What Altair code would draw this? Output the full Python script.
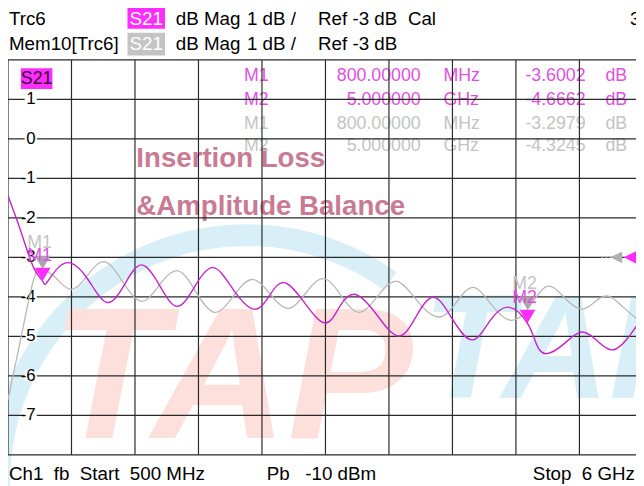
import altair as alt
import pandas as pd

W, H = 636, 478          # chart drawn from page (8,8)
OX, OY = 8, 8
FONT = "Liberation Sans, Arial, sans-serif"
BOLD = "Liberation Sans, Arial, sans-serif"
NB = "\u00a0"

MAG = "#c424c8"
MAG_BRIGHT = "#ff2cff"
MAG_TXT = "#e050e0"
GRAY = "#b8b8b8"
GRAY_TXT = "#c4c4c4"
GRID = "#2a2a2a"

# ---------------- data ----------------
grid_f = [0.5, 1.05, 1.6, 2.15, 2.7, 3.25, 3.8, 4.35, 4.9, 5.45, 6.0]
grid_db = [2, 1, 0, -1, -2, -3, -4, -5, -6, -7, -8]
ylab_db = [1, 0, -1, -2, -3, -4, -5, -6, -7]
ylab_text = ["1", "0", "-1", "-2", "-3", "-4", "-5", "-6", "-7"]

trc_f = [0.5, 0.611, 0.722, 0.8, 0.83, 0.919, 1.039, 1.193, 1.355, 1.509, 1.655,
         1.809, 1.963, 2.117, 2.279, 2.45, 2.63, 2.767, 2.895, 3.066, 3.246,
         3.374, 3.511, 3.691, 3.879, 4.033, 4.187, 4.349, 4.52, 4.674, 4.837,
         5.0, 5.077, 5.162, 5.316, 5.47, 5.615, 5.744, 5.864, 5.949]
trc_db = [-1.44, -2.34, -3.26, -3.60, -3.66, -3.31, -3.14, -3.56, -4.14, -3.69, -3.19,
          -3.69, -4.24, -3.74, -3.26, -3.81, -4.31, -3.96, -3.64, -4.14, -4.66,
          -4.24, -3.94, -4.44, -4.99, -4.51, -4.01, -4.56, -5.09, -4.61, -4.26,
          -4.67, -5.19, -5.44, -5.19, -4.89, -5.14, -5.34, -5.06, -4.72]

mem_f = [0.5, 0.611, 0.722, 0.8, 0.911, 1.047, 1.193, 1.338, 1.492, 1.655, 1.809,
         1.971, 2.125, 2.288, 2.45, 2.613, 2.775, 2.929, 3.083, 3.237, 3.391,
         3.545, 3.708, 3.87, 4.041, 4.229, 4.392, 4.537, 4.691, 4.845, 5.0,
         5.162, 5.316, 5.47, 5.598, 5.709, 5.829, 5.949]
mem_db = [-6.6, -5.06, -3.56, -3.30, -3.51, -3.81, -3.44, -3.11, -3.61, -4.11, -3.71,
          -3.34, -3.86, -4.39, -3.99, -3.56, -3.94, -4.29, -3.89, -3.54, -3.99,
          -4.39, -3.96, -3.61, -4.09, -4.51, -4.11, -3.76, -4.21, -4.59, -4.32,
          -3.74, -4.01, -4.31, -4.09, -3.99, -4.26, -4.56]

mk_name = ["M1", "M2"]
mk_f = [0.8, 5.0]
mk_trc_db = [-3.6002, -4.6662]
mk_mem_db = [-3.2979, -4.3245]
mk_f_text = ["800.00000", "5.000000"]
mk_unit = ["MHz", "GHz"]
mk_trc_text = ["-3.6002", "-4.6662"]
mk_mem_text = ["-3.2979", "-4.3245"]
ref_db = [-3]

# ---------------- scales ----------------
PX_PER_GHZ = 64.3 / 0.55
PX_PER_DB = 40.0
xs = alt.Scale(domain=[0.5, 0.5 + W / PX_PER_GHZ], nice=False, zero=False)
Y_TOP = -3 + (257.5 - OY) / PX_PER_DB
ys = alt.Scale(domain=[Y_TOP - H / PX_PER_DB, Y_TOP], nice=False, zero=False)


def X(field):
    return alt.X(field, type="quantitative", scale=xs, axis=None)


def Y(field):
    return alt.Y(field, type="quantitative", scale=ys, axis=None)


def one():
    return pd.DataFrame({"t": [""]})


def label(text, px, py, color="black", size=19, align="left", font=FONT,
          weight="normal", style="normal"):
    return alt.Chart(pd.DataFrame({"t": [text]})).mark_text(
        align=align, baseline="middle", font=font, fontSize=size, color=color,
        fontWeight=weight, fontStyle=style
    ).encode(x=alt.value(px - OX), y=alt.value(py - OY), text="t:N")


def box(x1, x2, y1, y2, color):
    return alt.Chart(one()).mark_rect(color=color).encode(
        x=alt.value(x1 - OX), x2=alt.value(x2 - OX),
        y=alt.value(y1 - OY), y2=alt.value(y2 - OY))


layers = []

# ---------------- watermark ----------------
layers.append(alt.Chart(one()).mark_arc(
    radius=262, radius2=240, theta=4.62, theta2=6.9, color="#d8eff7"
).encode(x=alt.value(250 - OX), y=alt.value(486 - OY)))
layers.append(alt.Chart(pd.DataFrame({"t": ["TAP"]})).mark_text(
    align="left", baseline="alphabetic", font=BOLD, fontSize=190,
    fontWeight="bold", fontStyle="italic", color="#fde0dc"
).encode(x=alt.value(52 - OX), y=alt.value(440 - OY), text="t:N"))
layers.append(alt.Chart(pd.DataFrame({"t": ["TAP"]})).mark_text(
    align="left", baseline="alphabetic", font=BOLD, fontSize=150,
    fontWeight="bold", fontStyle="italic", color="#d8eff7"
).encode(x=alt.value(428 - OX), y=alt.value(400 - OY), text="t:N"))

# ---------------- overlay titles ----------------
layers.append(label("Insertion Loss", 138, 158, color="#c97a94", size=28, font=BOLD, weight="bold"))
layers.append(label("&Amplitude Balance", 138, 207, color="#c97a94", size=28, font=BOLD, weight="bold"))

# ---------------- marker table ----------------
rows = [
    (mk_name[0], mk_f_text[0], mk_unit[0], mk_trc_text[0], MAG_TXT, 74),
    (mk_name[1], mk_f_text[1], mk_unit[1], mk_trc_text[1], MAG_TXT, 98),
    (mk_name[0], mk_f_text[0], mk_unit[0], mk_mem_text[0], GRAY_TXT, 122),
    (mk_name[1], mk_f_text[1], mk_unit[1], mk_mem_text[1], GRAY_TXT, 145),
]
for name, ft, unit, vt, col, py in rows:
    layers.append(label(name, 247, py, color=col, size=18))
    layers.append(label(ft, 426, py, color=col, align="right", size=18))
    layers.append(label(unit, 449, py, color=col, size=18))
    layers.append(label(vt, 593, py, color=col, align="right", size=18))
    layers.append(label("dB", 613, py, color=col, size=18))

# ---------------- grid ----------------
vgrid = pd.DataFrame({"f": grid_f, "top": [grid_db[0]] * len(grid_f), "bot": [grid_db[-1]] * len(grid_f)})
hgrid = pd.DataFrame({"db": grid_db, "l": [grid_f[0]] * len(grid_db), "r": [grid_f[-1]] * len(grid_db)})
layers.append(alt.Chart(vgrid).mark_rule(color=GRID, strokeWidth=1.2, clip=True).encode(
    x=X("f"), y=Y("top"), y2="bot"))
layers.append(alt.Chart(hgrid).mark_rule(color=GRID, strokeWidth=1.2, clip=True).encode(
    y=Y("db"), x=X("l"), x2="r"))

# y labels with white backing
ylab = pd.DataFrame({"db": ylab_db, "t": ylab_text})
layers.append(alt.Chart(ylab).mark_point(
    shape="M-1,-0.85L1,-0.85L1,0.85L-1,0.85Z", filled=True, color="white", opacity=1, size=150
).encode(x=alt.value(31 - OX), y=Y("db")))
layers.append(alt.Chart(ylab).mark_text(
    align="right", baseline="middle", font=FONT, fontSize=17, color="black"
).encode(x=alt.value(36 - OX), y=Y("db"), text="t:N"))

# S21 badge inside the grid
layers.append(box(21, 53, 66, 87, MAG_BRIGHT))
layers.append(label("S21", 37, 76.5, color="#3a003a", align="center", size=18))

# ---------------- traces ----------------
mem = pd.DataFrame({"f": mem_f, "db": mem_db})
trc = pd.DataFrame({"f": trc_f, "db": trc_db})
layers.append(alt.Chart(mem).mark_line(color=GRAY, strokeWidth=1.3, interpolate="natural", clip=True).encode(
    x=X("f"), y=Y("db")))
layers.append(alt.Chart(trc).mark_line(color=MAG, strokeWidth=1.4, interpolate="natural", clip=True).encode(
    x=X("f"), y=Y("db")))

# ---------------- markers ----------------
TRI = "M-1,-0.85L1,-0.85L0,0.85Z"
mk_mem = pd.DataFrame({"f": mk_f, "db": mk_mem_db, "n": mk_name})
mk_trc = pd.DataFrame({"f": mk_f, "db": mk_trc_db, "n": mk_name})
layers.append(alt.Chart(mk_mem).mark_point(shape=TRI, filled=True, color="#a8a8a8", opacity=1,
                                            size=256, yOffset=-6.8).encode(x=X("f"), y=Y("db")))
layers.append(alt.Chart(mk_trc).mark_point(shape=TRI, filled=True, color=MAG_BRIGHT, opacity=1,
                                            size=256, yOffset=-6.8).encode(x=X("f"), y=Y("db")))
layers.append(alt.Chart(mk_mem).mark_text(font=FONT, fontSize=18, color=GRAY_TXT, dy=-26, dx=-3,
                                           baseline="middle").encode(x=X("f"), y=Y("db"), text="n:N"))
layers.append(alt.Chart(mk_trc).mark_text(font=FONT, fontSize=18, color=MAG_TXT, dy=-25, dx=-3,
                                           baseline="middle").encode(x=X("f"), y=Y("db"), text="n:N"))

# reference level arrows at right edge
refd = pd.DataFrame({"db": ref_db})
LEFT_TRI = "M1,-1L-1,0L1,1Z"
layers.append(alt.Chart(refd).mark_rule(color="#9a9a9a", strokeDash=[2, 2], strokeWidth=1.2).encode(
    x=alt.value(609 - OX), x2=alt.value(619 - OX), y=Y("db")))
layers.append(alt.Chart(refd).mark_point(shape=LEFT_TRI, filled=True, color="#b0b0b0", opacity=1,
                                          size=144).encode(x=alt.value(624 - OX), y=Y("db")))
layers.append(alt.Chart(refd).mark_point(shape=LEFT_TRI, filled=True, color=MAG_BRIGHT, opacity=1,
                                          size=361).encode(x=alt.value(641 - OX), y=Y("db")))

# ---------------- header / footer ----------------
layers.append(label("Trc6", 9, 16))
layers.append(box(129, 167, 5, 26, MAG_BRIGHT))
layers.append(label("S21", 148, 16, color="white", align="center"))
layers.append(label("dB Mag", 178, 16))
layers.append(label("1 dB /", 250, 16))
layers.append(label("Ref -3 dB", 322, 16))
layers.append(label("Cal", 413, 16))
layers.append(label("3", 638, 16))

layers.append(label("Mem10[Trc6]", 9, 41))
layers.append(box(129, 167, 30, 53, "#c4c4c4"))
layers.append(label("S21", 148, 41, color="white", align="center"))
layers.append(label("dB Mag", 178, 41))
layers.append(label("1 dB /", 250, 41))
layers.append(label("Ref -3 dB", 322, 41))

layers.append(label("Ch1" + NB * 2 + "fb" + NB * 2 + "Start" + NB * 2 + "500 MHz", 9, 477))
layers.append(label("Pb" + NB * 3 + "-10 dBm", 270, 477))
layers.append(label("Stop" + NB * 2 + "6 GHz", 643, 477, align="right"))

chart = alt.layer(*layers).properties(
    width=W, height=H, padding=0, autosize=alt.AutoSizeParams(type="none")
).configure_view(stroke=None)

chart.save("out.html", embed_options={"renderer": "svg", "actions": False})
